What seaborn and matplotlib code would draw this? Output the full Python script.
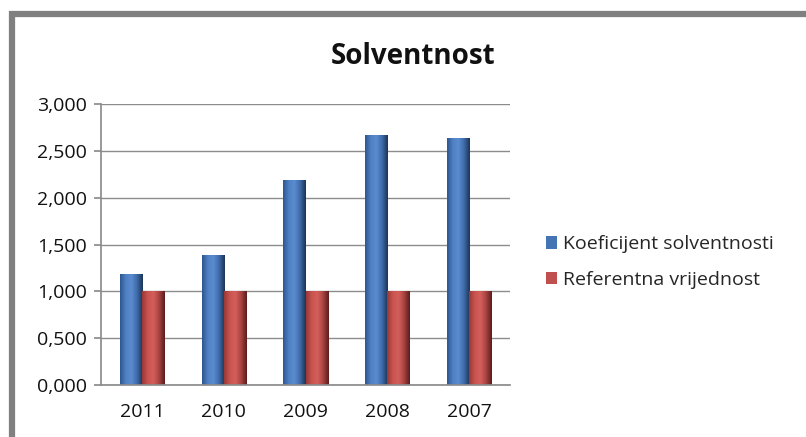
import matplotlib
matplotlib.use("Agg")
import matplotlib.pyplot as plt
import seaborn as sns
import pandas as pd
import numpy as np
from matplotlib.patches import Rectangle
from matplotlib.ticker import FuncFormatter
from matplotlib.colors import LinearSegmentedColormap

years = ["2011", "2010", "2009", "2008", "2007"]
koeficijent = [1185, 1390, 2190, 2670, 2640]
referentna = [1000, 1000, 1000, 1000, 1000]
series_names = ["Koeficijent solventnosti", "Referentna vrijednost"]

df = pd.DataFrame({
    "Godina": years * 2,
    "Vrijednost": koeficijent + referentna,
    "Serija": [series_names[0]] * len(years) + [series_names[1]] * len(years),
})

sns.set_theme(style="white")
plt.rcParams["font.family"] = ["Open Sans", "DejaVu Sans"]

W, H = 806, 437
fig = plt.figure(figsize=(W / 100, H / 100), dpi=100)
ax = fig.add_axes([101 / W, 1 - 385 / H, 409 / W, 281 / H])

palette = {series_names[0]: "#4574B4", series_names[1]: "#C0504D"}
sns.barplot(data=df, x="Godina", y="Vrijednost", hue="Serija", order=years,
            hue_order=series_names, palette=palette, width=0.54, ax=ax,
            saturation=1, edgecolor="none", legend=True)

# gradient shading for bevelled look
grads = [
    LinearSegmentedColormap.from_list("b", ["#2E5690", "#4F80C4", "#5B8CD0", "#3E6AA8", "#1C3556"]),
    LinearSegmentedColormap.from_list("r", ["#9A3836", "#C9544F", "#D45F5A", "#A84341", "#5A1D1C"]),
]
grad = np.linspace(0, 1, 64).reshape(1, -1)
for i, cont in enumerate(ax.containers):
    for b in cont:
        x0, y0 = b.get_x(), b.get_y()
        w, h = b.get_width(), b.get_height()
        im = ax.imshow(grad, cmap=grads[i], aspect="auto",
                       extent=(x0, x0 + w, y0, y0 + h), zorder=b.get_zorder() + 0.1,
                       interpolation="bilinear")
        im.set_clip_path(b)

ax.set_ylim(0, 3000)
ax.set_xlim(-0.5, len(years) - 0.5)
ax.set_yticks(range(0, 3001, 500))
ax.yaxis.set_major_formatter(FuncFormatter(lambda v, p: f"{v/1000:.3f}".replace(".", ",")))
ax.grid(axis="y", color="#8C8C8C", linewidth=1)
ax.set_axisbelow(True)
for s in ["top", "right"]:
    ax.spines[s].set_visible(False)
ax.spines["left"].set_color("#8C8C8C")
ax.spines["bottom"].set_color("#8C8C8C")
ax.tick_params(axis="y", left=True, length=5, color="#8C8C8C", labelsize=14, pad=5)
ax.tick_params(axis="x", bottom=False, labelsize=14, pad=7)
ax.set_xlabel("")
ax.set_ylabel("")
for t in ax.get_xticklabels() + ax.get_yticklabels():
    t.set_color("#111111")

leg = ax.legend(loc="center left", bbox_to_anchor=(538 / W, 1 - 262 / H),
                bbox_transform=fig.transFigure, frameon=False, fontsize=14,
                handlelength=0.6, handleheight=0.6, handletextpad=0.3,
                labelspacing=0.9, borderaxespad=0)

fig.text(413 / W, 1 - 57 / H, "Solventnost", ha="center", va="center",
         fontsize=20, fontweight="bold", color="#111111")

fig.patches.append(Rectangle((12 / W, -0.1), 1.2, 1 - 13.5 / H + 0.1,
                             transform=fig.transFigure, fill=False,
                             edgecolor="#808080", linewidth=4.5))

fig.savefig("out.png", dpi=100)
